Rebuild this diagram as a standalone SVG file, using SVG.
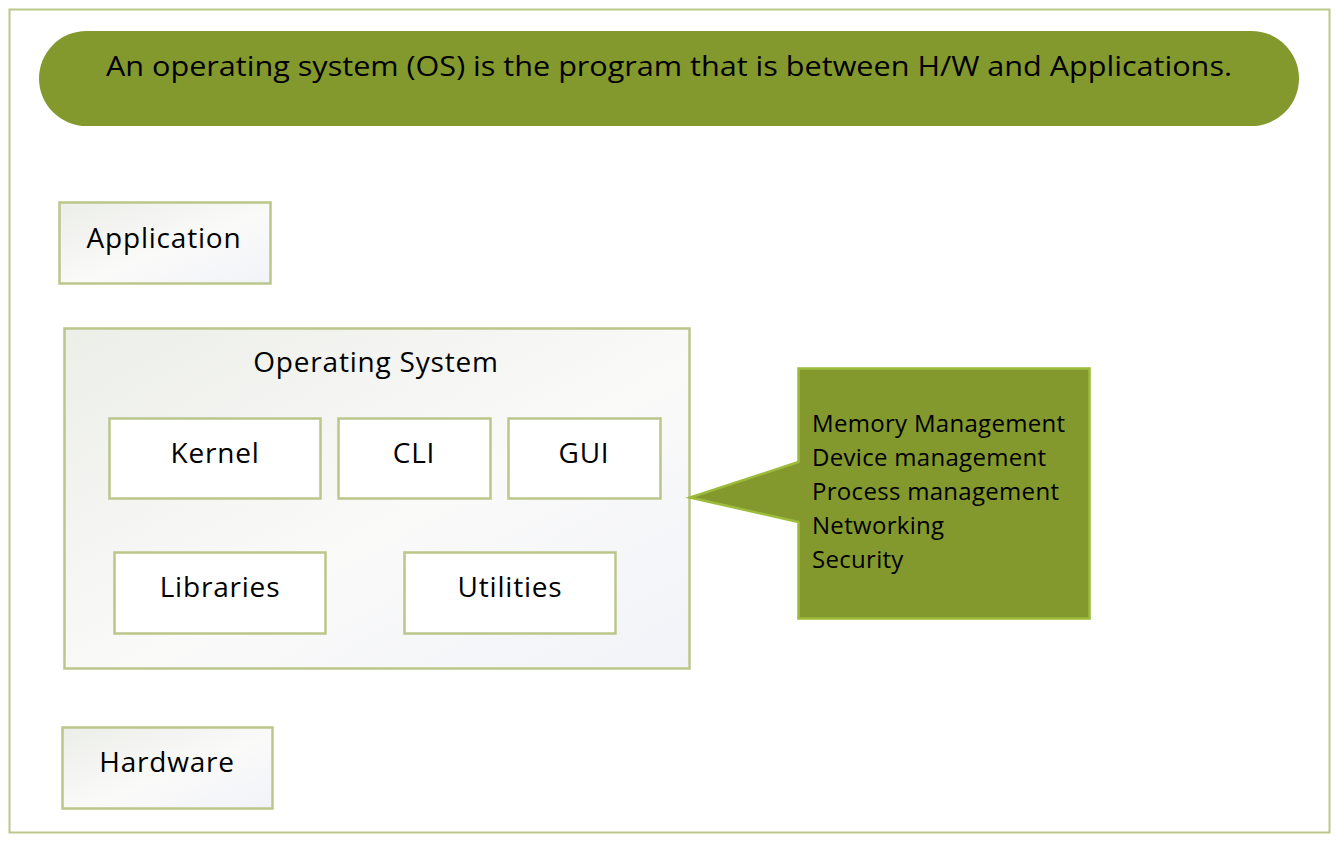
<svg xmlns="http://www.w3.org/2000/svg" width="1341" height="844" viewBox="0 0 1341 844">
<defs>
<linearGradient id="g" x1="0" y1="0" x2="1" y2="1">
<stop offset="0" stop-color="#eceee8"/>
<stop offset="0.55" stop-color="#fafaf9"/>
<stop offset="1" stop-color="#f2f3f9"/>
</linearGradient>
</defs>
<style>
text{font-family:"Open Sans","Liberation Sans",sans-serif;fill:#000}
.box{stroke:#bbc68a;stroke-width:2.5}
.grad{fill:url(#g)}
.white{fill:#fff}
.lbl{font-size:28px;text-anchor:middle;letter-spacing:0.8px}
.ban{font-size:27px;text-anchor:middle}
.list{font-size:24px;letter-spacing:0.3px}
</style>
<rect x="9.5" y="9.5" width="1320" height="823" fill="#fff" stroke="#bcc78c" stroke-width="2"/>
<g id="banner">
<rect x="39" y="31" width="1260" height="95" rx="47.5" fill="#84992d"/>
<text x="669" y="76" class="ban" textLength="1126" lengthAdjust="spacingAndGlyphs">An operating system (OS) is the program that is between H/W and Applications.</text>
</g>
<g id="application">
<rect x="59.5" y="202.5" width="211" height="81" class="box grad"/>
<text x="164" y="248" class="lbl">Application</text>
</g>
<g id="os">
<rect x="64.5" y="328.5" width="625" height="340" class="box grad"/>
<text x="376" y="372" class="lbl">Operating System</text>
</g>
<g id="kernel">
<rect x="109.5" y="418.5" width="211" height="80" class="box white"/>
<text x="215" y="463" class="lbl">Kernel</text>
</g>
<g id="cli">
<rect x="338.5" y="418.5" width="152" height="80" class="box white"/>
<text x="414" y="463" class="lbl">CLI</text>
</g>
<g id="gui">
<rect x="508.5" y="418.5" width="152" height="80" class="box white"/>
<text x="584" y="463" class="lbl">GUI</text>
</g>
<g id="libraries">
<rect x="114.5" y="552.5" width="211" height="81" class="box white"/>
<text x="220" y="597" class="lbl">Libraries</text>
</g>
<g id="utilities">
<rect x="404.5" y="552.5" width="211" height="81" class="box white"/>
<text x="510" y="597" class="lbl">Utilities</text>
</g>
<g id="hardware">
<rect x="62.5" y="727.5" width="210" height="81" class="box grad"/>
<text x="167" y="772" class="lbl">Hardware</text>
</g>
<g id="callout">
<path d="M798.5,368.5 H1089.5 V618.5 H798.5 V522 L690,497.5 L798.5,462 Z" fill="#84992d" stroke="#9dbb3b" stroke-width="2.5" stroke-linejoin="miter"/>
<text class="list">
<tspan x="812" y="432">Memory Management</tspan>
<tspan x="812" y="466">Device management</tspan>
<tspan x="812" y="500">Process management</tspan>
<tspan x="812" y="534">Networking</tspan>
<tspan x="812" y="568">Security</tspan>
</text>
</g>
<g id="connectors"></g>
</svg>
